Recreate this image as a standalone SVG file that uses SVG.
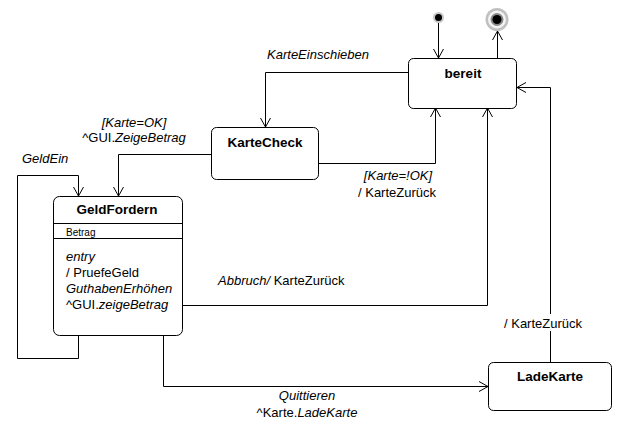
<svg xmlns="http://www.w3.org/2000/svg" width="627" height="439" viewBox="0 0 627 439">
<style>
.st{fill:#fff;stroke:#000;stroke-width:1}
.ln{fill:none;stroke:#000;stroke-width:1}
text{font-family:"Liberation Sans",Arial,sans-serif;font-size:13px;fill:#000}
.t{font-weight:bold;text-anchor:middle;font-size:13.5px}
.i{font-style:italic}
.s{font-size:10px}
.c{text-anchor:middle}
</style>
<defs>
<marker id="a" markerWidth="12" markerHeight="12" refX="10" refY="6" orient="auto" markerUnits="userSpaceOnUse">
<path d="M1,1 L10,6 L1,11" fill="none" stroke="#000" stroke-width="1"/>
</marker>
</defs>
<rect width="627" height="439" fill="#fff"/>
<g id="connectors">
<path class="ln" d="M438.5,22 V58" marker-end="url(#a)"/>
<path class="ln" d="M497.5,58 V31" marker-end="url(#a)"/>
<path class="ln" d="M408,72.5 H265.5 V127" marker-end="url(#a)"/>
<path class="ln" d="M318,163.5 H435.5 V108" marker-end="url(#a)"/>
<path class="ln" d="M211,154.5 H118.5 V196" marker-end="url(#a)"/>
<path class="ln" d="M78.5,335 V358.5 H17.5 V175.5 H78.5 V196" marker-end="url(#a)"/>
<path class="ln" d="M182,305.5 H487.5 V108" marker-end="url(#a)"/>
<path class="ln" d="M163.5,335 V386.5 H488" marker-end="url(#a)"/>
<path class="ln" d="M550.5,362 V331 M550.5,314 V87.5 H517" marker-end="url(#a)"/>
<text x="318" y="59" class="i c">KarteEinschieben</text>
<text x="398" y="180" class="i c">[Karte=!OK]</text>
<text x="397" y="197" class="c">/ KarteZurück</text>
<text x="134" y="127" class="i c">[Karte=OK]</text>
<text x="134" y="142" class="c">^GUI.<tspan class="i">ZeigeBetrag</tspan></text>
<text x="22" y="163" class="i">GeldEin</text>
<text x="218" y="285"><tspan class="i">Abbruch/</tspan> KarteZurück</text>
<text x="307" y="400" class="i c">Quittieren</text>
<text x="307" y="417" class="c">^Karte.<tspan class="i">LadeKarte</tspan></text>
<text x="543" y="328" class="c">/ KarteZurück</text>
</g>
<g id="initial">
<circle cx="438.5" cy="17.5" r="5.5" fill="#c8c8c8"/>
<circle cx="438.5" cy="17.5" r="3.5" fill="#000"/>
</g>
<g id="final">
<circle cx="497" cy="19.5" r="11.5" fill="#c0c0c0"/>
<circle cx="497" cy="19.5" r="9" fill="#f4f4f4"/>
<circle cx="497" cy="19.5" r="6.5" fill="#8a8a8a"/>
<circle cx="497" cy="19.5" r="4.5" fill="#000"/>
</g>
<g id="bereit">
<rect class="st" x="408.5" y="58.5" width="108" height="50" rx="5"/>
<text x="463" y="78" class="t">bereit</text>
</g>
<g id="KarteCheck">
<rect class="st" x="211.5" y="127.5" width="107" height="52" rx="5"/>
<text x="265" y="147" class="t">KarteCheck</text>
</g>
<g id="GeldFordern">
<rect class="st" x="53.5" y="196.5" width="129" height="139" rx="6"/>
<path class="ln" d="M53.5,223.5 H182.5 M53.5,238.5 H182.5"/>
<text x="117" y="214" class="t">GeldFordern</text>
<text x="66" y="236" class="s">Betrag</text>
<text x="66" y="261" class="i">entry</text>
<text x="66" y="277">/ PruefeGeld</text>
<text x="66" y="293" class="i">GuthabenErhöhen</text>
<text x="66" y="309">^GUI.<tspan class="i">zeigeBetrag</tspan></text>
</g>
<g id="LadeKarte">
<rect class="st" x="488.5" y="362.5" width="123" height="48" rx="5"/>
<text x="550" y="381" class="t">LadeKarte</text>
</g>
</svg>
